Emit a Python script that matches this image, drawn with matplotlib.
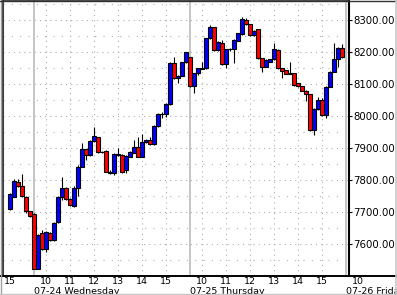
import matplotlib
matplotlib.use("Agg")
import matplotlib.pyplot as plt
from matplotlib.patches import Rectangle
from matplotlib.lines import Line2D

# 10-minute bars: 07-23 15:00 ... 07-25 15:50
opens = [7708, 7748, 7795, 7781, 7748, 7702,
         7693, 7523, 7633, 7584, 7633, 7612, 7668, 7746, 7776, 7741, 7720, 7776, 7842, 7896,
         7878, 7922, 7933, 7888, 7891, 7826, 7821, 7878, 7878, 7831, 7873, 7885, 7902, 7873,
         7918, 7925, 7912, 7969, 8005, 8006, 8037, 8167, 8118, 8126, 8168,
         8183, 8094, 8133, 8148, 8149, 8243, 8277, 8206, 8227, 8162, 8208, 8208, 8235, 8255,
         8300, 8287, 8253, 8271, 8180, 8154, 8170, 8177, 8206, 8149, 8144, 8133, 8133, 8102,
         8094, 8078, 8068, 7956, 8022, 8050, 8003, 8092, 8138, 8177, 8213]
highs = [7758, 7802, 7802, 7819, 7749, 7703,
         7697, 7631, 7644, 7641, 7637, 7669, 7750, 7808, 7778, 7744, 7781, 7847, 7917, 7897,
         7925, 7967, 7934, 7891, 7894, 7831, 7884, 7899, 7881, 7878, 7891, 7925, 7935, 7943,
         7928, 7935, 7972, 8009, 8012, 8041, 8169, 8185, 8128, 8169, 8200,
         8184, 8134, 8150, 8170, 8244, 8284, 8278, 8234, 8238, 8209, 8212, 8241, 8259, 8310,
         8306, 8288, 8269, 8272, 8181, 8178, 8178, 8229, 8209, 8150, 8145, 8170, 8134, 8103,
         8095, 8080, 8069, 8025, 8060, 8056, 8094, 8141, 8229, 8216, 8225]
lows = [7706, 7746, 7778, 7747, 7696, 7684,
        7522, 7522, 7581, 7574, 7609, 7609, 7666, 7738, 7738, 7719, 7716, 7750, 7841, 7862,
        7875, 7919, 7884, 7884, 7825, 7819, 7816, 7875, 7823, 7821, 7872, 7884, 7872, 7872,
        7916, 7909, 7909, 7966, 7993, 7997, 8034, 8116, 8102, 8125, 8166,
        8091, 8071, 8128, 8147, 8147, 8241, 8203, 8203, 8159, 8149, 8203, 8165, 8234, 8253,
        8284, 8250, 8250, 8178, 8137, 8153, 8169, 8175, 8147, 8118, 8130, 8130, 8094, 8091,
        8077, 8047, 7953, 7941, 8019, 8000, 7993, 8091, 8137, 8154, 8181]
closes = [7756, 7797, 7781, 7751, 7702, 7689,
          7523, 7627, 7584, 7636, 7612, 7665, 7746, 7776, 7741, 7722, 7776, 7842, 7896, 7878,
          7922, 7937, 7887, 7887, 7826, 7821, 7880, 7882, 7826, 7875, 7888, 7902, 7873, 7918,
          7925, 7912, 7969, 8006, 8007, 8037, 8167, 8118, 8126, 8168, 8199,
          8094, 8133, 8149, 8150, 8243, 8277, 8206, 8230, 8162, 8208, 8210, 8237, 8258, 8302,
          8287, 8253, 8267, 8180, 8154, 8175, 8177, 8208, 8149, 8142, 8131, 8131, 8097, 8094,
          8078, 8069, 7956, 8022, 8050, 8003, 8092, 8138, 8177, 8213, 8183]

hour_tick_idx = [0, 9, 15, 21, 27, 33, 39, 48, 54, 60, 66, 72, 78, 87]
hour_labels = ["15", "10", "11", "12", "13", "14", "15",
               "10", "11", "12", "13", "14", "15", "10"]
day_sep_idx = [6, 45, 84]
day_labels = ["07-24 Wednesday", "07-25 Thursday", "07-26 Friday"]
y_major = [7600, 7700, 7800, 7900, 8000, 8100, 8200, 8300]
y_minor = [7550, 7650, 7750, 7850, 7950, 8050, 8150, 8250, 8350]

W, H = 397, 295
fig = plt.figure(figsize=(W / 100, H / 100), dpi=100)
fig.patch.set_facecolor("white")
ax = fig.add_axes([3 / W, 19 / H, 346 / W, 276 / H])
ax.set_xlim(-1.75, 84.75)
ax.set_ylim(7500, 8362.5)

grid_col = "#a8a8a8"
for v in y_major:
    ax.axhline(v, color=grid_col, lw=0.75, ls=(0, (1, 4)), zorder=1)
for v in y_minor:
    ax.axhline(v, color=grid_col, lw=0.75, ls=(0, (1, 7)), zorder=1)
for t in hour_tick_idx:
    if 0 < t < 84:
        ax.axvline(t, color=grid_col, lw=0.75, ls=(0, (1, 4)), zorder=1)
for t in day_sep_idx:
    ax.axvline(t, color="#c0c0c0", lw=1.3, zorder=1)

for i, (o, h, l, c) in enumerate(zip(opens, highs, lows, closes)):
    col = "#0000ff" if c >= o else "#ff0000"
    ax.vlines(i, l, h, color="black", lw=0.8, zorder=3)
    ax.add_patch(Rectangle((i - 0.5, min(o, c)), 1.0, max(abs(c - o), 0.6),
                           facecolor=col, edgecolor="black", lw=0.8, zorder=4))

ax.set_xticks([])
ax.yaxis.tick_right()
ax.set_yticks(y_major)
ax.set_yticklabels([f"{v:.2f}" for v in y_major])
ax.tick_params(axis="y", length=2, width=0.8, pad=1, labelsize=7.3, colors="black")
for lab in ax.get_yticklabels():
    lab.set_family("DejaVu Sans")
ax.spines["right"].set_linewidth(1.5)
ax.spines["right"].set_color("black")
ax.spines["top"].set_linewidth(1.2)
ax.spines["top"].set_color("#303030")
ax.spines["left"].set_linewidth(1.5)
ax.spines["left"].set_color("#404040")
ax.spines["bottom"].set_visible(False)

narrow = ["Liberation Sans Narrow", "DejaVu Sans"]
trans = ax.get_xaxis_transform()
for t, lab in zip(hour_tick_idx, hour_labels):
    ax.text(t, -5.6 / 276, lab, transform=trans, ha="center", va="center",
            fontsize=6.8, family=narrow, clip_on=False)
for t, lab in zip(day_sep_idx, day_labels):
    ax.text(t - 0.1, -15.0 / 276, lab, transform=trans, ha="left", va="center",
            fontsize=6.8, family=narrow, clip_on=False)

# full-width x axis line and window frame
fig.add_artist(Line2D([0, 1], [19 / H, 19 / H], color="black", lw=1.4))
fig.add_artist(Line2D([0.6 / W, 0.6 / W], [0, 1], color="#a0a0a0", lw=1.0))
fig.add_artist(Line2D([0, 1], [1 - 0.5 / H, 1 - 0.5 / H], color="#303030", lw=1.0))
fig.add_artist(Line2D([1 - 1 / W, 1 - 1 / W], [0, 1], color="#c8c8c8", lw=1.2))
fig.add_artist(Line2D([0, 1], [1.2 / H, 1.2 / H], color="#c8c8c8", lw=1.0))

fig.savefig("out.png", dpi=100, facecolor="white")
